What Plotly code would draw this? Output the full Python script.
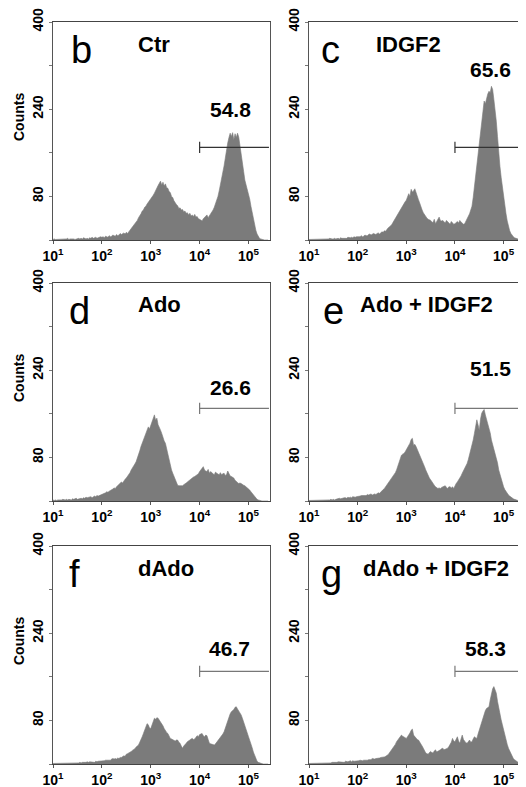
import plotly.graph_objects as go

# ---------------- data ----------------
# channel positions (log10 of fluorescence), 0.025-decade bins from 10^1 to 10^5.4
channels_log10 = [round(1 + 0.025 * i, 3) for i in range(177)]

counts_ctr = [
    1, 2, 1, 1, 2, 1, 1, 2, 1, 2, 1, 2, 3, 1, 2, 2, 3, 2, 1, 2,
    2, 3, 2, 3, 2, 4, 3, 2, 3, 2, 4, 3, 5, 3, 4, 5, 3, 4, 5, 6,
    5, 6, 4, 7, 6, 5, 8, 6, 7, 9, 8, 7, 10, 8, 9, 12, 10, 11, 13, 11,
    14, 12, 16, 18, 21, 24, 27, 29, 33, 36, 41, 44, 48, 53, 55, 60, 62, 66, 69, 72,
    75, 77, 82, 86, 92, 96, 100, 104, 108, 101, 106, 99, 103, 96, 95, 89, 87, 80, 78, 72,
    68, 65, 63, 58, 59, 55, 56, 52, 53, 49, 50, 46, 49, 44, 46, 43, 47, 42, 43, 39,
    38, 36, 35, 39, 42, 44, 46, 41, 44, 48, 51, 55, 60, 66, 73, 80, 90, 100, 112, 124,
    136, 150, 166, 178, 188, 196, 190, 197, 184, 195, 188, 196, 189, 175, 158, 140, 126, 110, 101, 94,
    87, 75, 62, 50, 40, 28, 18, 11, 6, 3, 2, 1, 0, 0, 0, 0, 0]

counts_idgf2 = [
    1, 1, 2, 1, 1, 1, 2, 1, 1, 2, 1, 2, 1, 2, 2, 1, 2, 3, 2, 2,
    2, 3, 2, 3, 3, 2, 4, 3, 3, 4, 4, 3, 5, 4, 4, 5, 4, 6, 5, 6,
    6, 7, 6, 8, 6, 7, 9, 8, 8, 10, 11, 9, 10, 12, 11, 10, 12, 13, 11, 14,
    15, 14, 17, 16, 20, 22, 24, 26, 28, 32, 36, 39, 42, 46, 50, 55, 60, 63, 67, 70,
    73, 78, 85, 80, 93, 88, 90, 94, 86, 82, 74, 68, 60, 55, 50, 46, 42, 40, 38, 37,
    36, 33, 32, 38, 30, 34, 37, 42, 36, 35, 36, 33, 31, 36, 33, 30, 29, 34, 31, 29,
    30, 33, 34, 31, 36, 33, 31, 29, 30, 34, 38, 42, 48, 55, 62, 78, 97, 115, 134, 155,
    176, 198, 218, 238, 255, 250, 262, 268, 273, 270, 282, 276, 258, 240, 218, 190, 158, 135, 115, 96,
    79, 62, 48, 35, 24, 17, 12, 8, 6, 4, 3, 2, 1, 1, 1, 0, 0]

counts_ado = [
    2, 1, 2, 1, 2, 2, 1, 2, 3, 2, 2, 3, 2, 3, 3, 2, 4, 3, 4, 5,
    3, 4, 5, 5, 4, 6, 5, 7, 6, 7, 7, 8, 6, 8, 9, 8, 10, 9, 10, 11,
    11, 12, 13, 15, 17, 16, 18, 19, 20, 22, 24, 23, 26, 28, 30, 32, 35, 33, 38, 40,
    42, 45, 48, 52, 57, 60, 63, 68, 72, 78, 85, 92, 100, 106, 112, 118, 124, 130, 136, 132,
    139, 146, 154, 158, 148, 152, 140, 136, 130, 124, 115, 110, 106, 96, 87, 75, 63, 57, 51, 45,
    39, 34, 29, 28, 28, 27, 28, 30, 31, 33, 35, 37, 39, 40, 42, 44, 45, 47, 48, 50,
    54, 58, 60, 63, 57, 55, 54, 58, 51, 54, 51, 50, 48, 53, 51, 49, 48, 52, 48, 50,
    51, 47, 48, 55, 51, 46, 45, 43, 42, 38, 35, 34, 32, 33, 32, 30, 29, 28, 26, 25,
    23, 20, 17, 14, 11, 8, 5, 3, 2, 1, 1, 0, 0, 0, 0, 0, 0]

counts_ado_idgf2 = [
    1, 1, 1, 1, 2, 1, 1, 1, 2, 1, 1, 2, 1, 2, 2, 1, 2, 2, 3, 2,
    3, 2, 3, 4, 4, 5, 4, 5, 5, 6, 6, 5, 7, 6, 7, 6, 8, 7, 7, 8,
    8, 9, 9, 10, 10, 11, 11, 10, 12, 11, 12, 13, 11, 12, 13, 12, 14, 15, 14, 17,
    20, 21, 23, 26, 29, 32, 35, 38, 42, 45, 48, 52, 57, 64, 72, 78, 84, 86, 87, 90,
    94, 97, 100, 106, 113, 115, 102, 104, 100, 95, 91, 86, 81, 75, 69, 63, 57, 51, 45, 42,
    39, 35, 32, 29, 26, 24, 23, 24, 23, 25, 26, 28, 28, 25, 23, 26, 26, 24, 26, 23,
    29, 32, 35, 38, 42, 46, 51, 55, 60, 64, 69, 76, 84, 92, 100, 112, 124, 137, 149, 140,
    130, 150, 161, 165, 168, 158, 149, 142, 136, 125, 112, 103, 94, 88, 81, 70, 57, 48, 39, 32,
    26, 21, 17, 14, 11, 9, 7, 5, 4, 3, 2, 1, 1, 0, 0, 0, 0]

counts_dado = [
    1, 1, 1, 2, 1, 1, 1, 2, 1, 1, 2, 1, 1, 2, 1, 2, 2, 1, 2, 2,
    2, 2, 3, 2, 3, 3, 2, 3, 4, 3, 4, 4, 3, 4, 3, 5, 4, 5, 5, 6,
    6, 5, 6, 7, 7, 8, 8, 7, 9, 10, 9, 10, 9, 11, 10, 12, 12, 14, 15, 14,
    18, 19, 20, 22, 23, 25, 26, 28, 31, 33, 35, 40, 44, 50, 56, 63, 69, 74, 72, 66,
    65, 72, 80, 84, 82, 85, 84, 81, 78, 74, 70, 65, 60, 58, 56, 51, 47, 46, 45, 43,
    42, 44, 44, 40, 38, 33, 29, 33, 35, 38, 41, 42, 44, 46, 47, 45, 46, 49, 52, 50,
    54, 55, 56, 52, 50, 53, 52, 45, 38, 37, 36, 35, 35, 37, 40, 42, 44, 47, 50, 55,
    59, 66, 75, 80, 86, 92, 96, 98, 100, 104, 105, 101, 98, 94, 90, 84, 78, 71, 64, 57,
    50, 44, 38, 30, 22, 15, 9, 5, 3, 2, 1, 0, 0, 0, 0, 0, 0]

counts_dado_idgf2 = [
    1, 1, 1, 1, 1, 2, 1, 1, 2, 1, 1, 2, 1, 1, 2, 2, 1, 2, 2, 3,
    3, 2, 3, 3, 4, 4, 3, 4, 4, 3, 5, 4, 4, 5, 6, 4, 6, 5, 5, 6,
    6, 6, 7, 6, 6, 7, 7, 6, 7, 8, 8, 8, 10, 9, 9, 10, 10, 11, 11, 12,
    12, 12, 13, 14, 15, 17, 20, 23, 26, 29, 32, 36, 41, 44, 47, 50, 53, 51, 50, 49,
    47, 50, 53, 57, 62, 64, 53, 50, 47, 45, 44, 41, 38, 33, 29, 24, 20, 19, 18, 21,
    23, 21, 20, 24, 26, 22, 23, 25, 26, 28, 29, 26, 27, 28, 29, 32, 35, 40, 47, 42,
    41, 46, 50, 42, 38, 46, 53, 45, 41, 39, 38, 42, 44, 40, 41, 46, 50, 48, 47, 55,
    62, 68, 75, 84, 93, 98, 102, 104, 105, 118, 130, 138, 142, 136, 130, 115, 102, 92, 81, 72,
    62, 53, 44, 36, 29, 24, 20, 15, 10, 8, 6, 4, 2, 1, 1, 0, 0]

panel_letters = ["b", "c", "d", "e", "f", "g"]
panel_titles = ["Ctr", "IDGF2", "Ado", "Ado + IDGF2", "dAdo", "dAdo + IDGF2"]
gate_percent = ["54.8", "65.6", "26.6", "51.5", "46.7", "58.3"]
gate_start = 1e4
gate_end = 262144
gate_level = 170

y_tick_vals = [0, 80, 160, 240, 320, 400]
y_tick_text = ["", "<b>80</b>", "", "<b>240</b>", "", "<b>400</b>"]
x_tick_vals = [10, 100, 1000, 10000, 100000]
x_tick_text = ["<b>10<sup>1</sup></b>", "<b>10<sup>2</sup></b>", "<b>10<sup>3</sup></b>",
               "<b>10<sup>4</sup></b>", "<b>10<sup>5</sup></b>"]

panels = [counts_ctr, counts_idgf2, counts_ado, counts_ado_idgf2, counts_dado, counts_dado_idgf2]
for p in panels:
    assert len(p) == len(channels_log10), len(p)

# ---------------- layout helpers ----------------
# the page body has an 8px margin, so the figure is shrunk by that amount and
# all page-pixel positions below are shifted by it
PAGE_W, PAGE_H = 526, 787
OFF = 8
W, H = PAGE_W - OFF, PAGE_H - OFF
col_px = [(53, 270), (309, 525)]
row_px = [(22, 240), (283, 501), (546, 764)]
FONT = "Liberation Sans, Arial, sans-serif"

letter_x = [69, 319, 67, 321, 67, 319]
title_x = [136, 374, 136, 358, 136, 361]
pct_pos = [(230, 110), (490, 69), (230, 387), (490, 368), (229, 648), (485, 648)]
gate_colors = ["#333333", "#333333", "#777777", "#777777", "#777777", "#777777"]

x_vals = [10 ** v for v in channels_log10]

fig = go.Figure()
layout = {}
annotations = []

def px(xp):
    return (xp - OFF) / W

def py(yp):
    return 1 - (yp - OFF) / H

for k, counts in enumerate(panels):
    r, c = divmod(k, 2)
    suf = "" if k == 0 else str(k + 1)
    xa, ya = "x" + suf, "y" + suf
    fig.add_trace(go.Scatter(
        x=x_vals, y=counts, mode="lines",
        line=dict(color="#7b7b7b", width=0.6),
        fill="tozeroy", fillcolor="#7b7b7b",
        xaxis=xa, yaxis=ya, showlegend=False, hoverinfo="skip"))
    fig.add_trace(go.Scatter(
        x=[gate_start, gate_end], y=[gate_level, gate_level], mode="lines",
        line=dict(color=gate_colors[k], width=1.2),
        xaxis=xa, yaxis=ya, showlegend=False, hoverinfo="skip"))
    fig.add_trace(go.Scatter(
        x=[gate_start], y=[gate_level], mode="markers",
        marker=dict(symbol="line-ns-open", size=8, color=gate_colors[k],
                    line=dict(color=gate_colors[k], width=1.2)),
        xaxis=xa, yaxis=ya, showlegend=False, hoverinfo="skip"))

    x0, x1 = col_px[c]
    y0, y1 = row_px[r]
    layout["xaxis" + suf] = dict(
        domain=[px(x0), px(x1)], anchor=ya, type="log", range=[1, 5.44],
        tickvals=x_tick_vals, ticktext=x_tick_text, automargin=False,
        ticklabeloverflow="allow",
        ticks="outside", ticklen=3, tickcolor="#555",
        showline=True, linecolor="#444", linewidth=1, mirror=True,
        showgrid=False, zeroline=False,
        tickfont=dict(family=FONT, size=14, color="black"))
    layout["yaxis" + suf] = dict(
        domain=[py(y1), py(y0)], anchor=xa, range=[0, 400], automargin=False,
        ticklabeloverflow="allow",
        tickvals=y_tick_vals, ticktext=y_tick_text, tickangle=-90,
        ticks="outside", ticklen=3, tickcolor="#777",
        showline=True, linecolor="#555", linewidth=1, mirror=True,
        showgrid=False, zeroline=False,
        tickfont=dict(family=FONT, size=14, color="black"))

    top = y0
    annotations.append(dict(
        text=panel_letters[k], xref="paper", yref="paper",
        x=px(letter_x[k]), y=py(top + 28), xanchor="left", yanchor="middle",
        showarrow=False, font=dict(family=FONT, size=38, color="black")))
    annotations.append(dict(
        text="<b>" + panel_titles[k] + "</b>", xref="paper", yref="paper",
        x=px(title_x[k]), y=py(top + 22), xanchor="left", yanchor="middle",
        showarrow=False, font=dict(family=FONT, size=22, color="black")))
    pxp, pyp = pct_pos[k]
    annotations.append(dict(
        text="<b>" + gate_percent[k] + "</b>", xref="paper", yref="paper",
        x=px(pxp), y=py(pyp), xanchor="center", yanchor="middle",
        showarrow=False, font=dict(family=FONT, size=21, color="black")))
    if c == 0:
        annotations.append(dict(
            text="<b>Counts</b>", xref="paper", yref="paper",
            x=px(19), y=py(top + 95), xanchor="center", yanchor="middle",
            textangle=-90, showarrow=False,
            font=dict(family=FONT, size=14, color="black")))

fig.update_layout(
    width=W, height=H, margin=dict(l=0, r=0, t=0, b=0),
    paper_bgcolor="white", plot_bgcolor="white",
    annotations=annotations, **layout)

fig.write_html("out.html")
